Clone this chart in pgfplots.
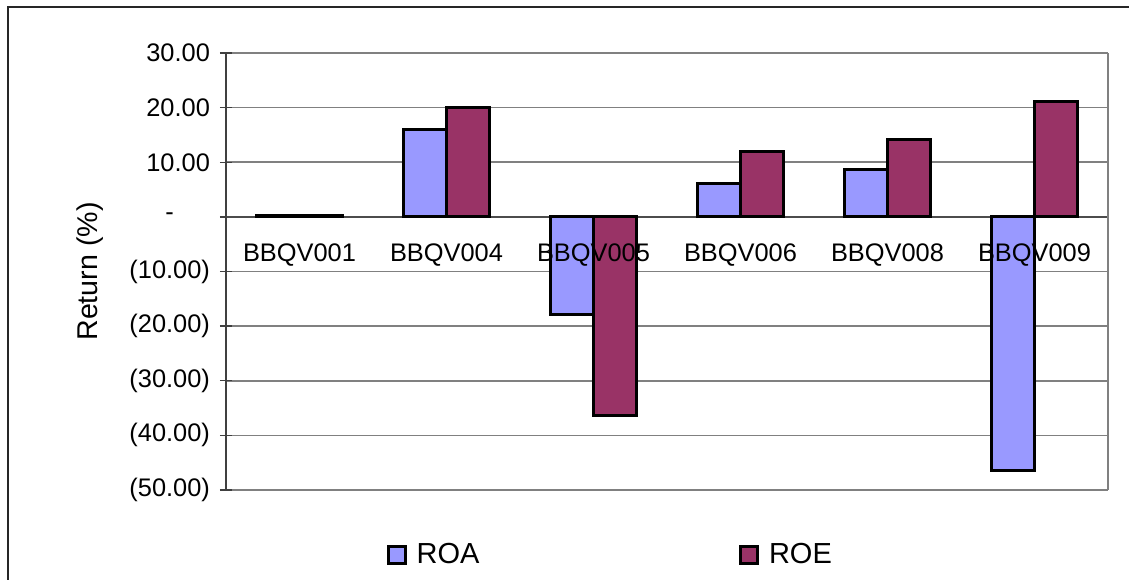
\documentclass[border=0pt]{standalone}
\usepackage{pgfplots}
\pgfplotsset{compat=1.18}
\usepackage{fontspec}
\setmainfont{Liberation Sans}
\definecolor{roaBlue}{HTML}{9999FF}
\definecolor{roePlum}{HTML}{993366}
\definecolor{gridGray}{HTML}{808080}
\pgfplotsset{chartbox/.style={scale only axis,width=441pt,height=218.5pt,at={(0,0)},anchor=south west,
  xmin=-0.5,xmax=5.5,ymin=-50,ymax=30,axis x line*=middle,axis y line*=left}}

\begin{document}
\begin{tikzpicture}[font=\fontsize{12.7}{15}\selectfont]
\path[use as bounding box] (-113pt,-44.5pt) rectangle (451.5pt,245pt);
\draw[black!85,line width=0.9pt] (-109pt,-80pt) -- (-109pt,241.5pt) -- (480pt,241.5pt);
\begin{axis}[chartbox,
  ybar=0pt,bar width=21.5pt,
  x axis line style={black!70,line width=0.8pt},
  y axis line style={black!75,line width=0.9pt},
  xtick=\empty,
  minor xtick={0.5,1.5,2.5,3.5,4.5},
  minor x tick style={black!70,line width=0.7pt},
  minor tick length=4pt,
  xtick align=outside,
  ytick={-50,-40,-30,-20,-10,0,10,20,30},
  yticklabels={(50.00),(40.00),(30.00),(20.00),(10.00),{-\rule{18pt}{0pt}},10.00,20.00,30.00},
  ytick align=center,ytick pos=left,
  major tick length=6pt,
  major y tick style={black!75,line width=0.7pt},
  yticklabel style={anchor=east,xshift=-1.5pt},
  ymajorgrids,
  grid style={gridGray,line width=0.8pt},
  ylabel={Return (\%)},
  every axis y label/.style={at={(axis description cs:-0.154,0.5)},rotate=90,anchor=center,font=\fontsize{14.3}{17}\selectfont},
  legend columns=2,
  legend style={draw=none,fill=none,at={(axis description cs:0.437,-0.149)},anchor=center,
    font=\fontsize{14.5}{17}\selectfont,
    /tikz/every odd column/.append style={column sep=3pt},
    /tikz/every even column/.append style={column sep=128pt}},
  legend image code/.code={\draw[#1,draw=black,line width=1.3pt] (-1pt,-4.2pt) rectangle (7.5pt,4.2pt);},
  clip=false]
\addplot[fill=roaBlue,draw=black,line width=1.4pt] coordinates {
(0,0.2) (1,16.0) (2,-17.8) (3,6.1) (4,8.7) (5,-46.5)};
\addlegendentry{ROA}
\addplot[fill=roePlum,draw=black,line width=1.4pt] coordinates {
(0,0.3) (1,20.0) (2,-36.3) (3,12.0) (4,14.2) (5,21.1)};
\addlegendentry{ROE}
\draw[gridGray,line width=1pt] (axis description cs:1,0) -- (axis description cs:1,1);
\end{axis}
% category names on top of the bars
\begin{axis}[chartbox,
  hide y axis,
  x axis line style={draw=none},
  xtick={0,1,2,3,4,5},
  xticklabels={BBQV001,BBQV004,BBQV005,BBQV006,BBQV008,BBQV009},
  major x tick style={draw=none},
  xticklabel style={yshift=-13pt,inner sep=0pt}]
\end{axis}
\end{tikzpicture}
\end{document}
